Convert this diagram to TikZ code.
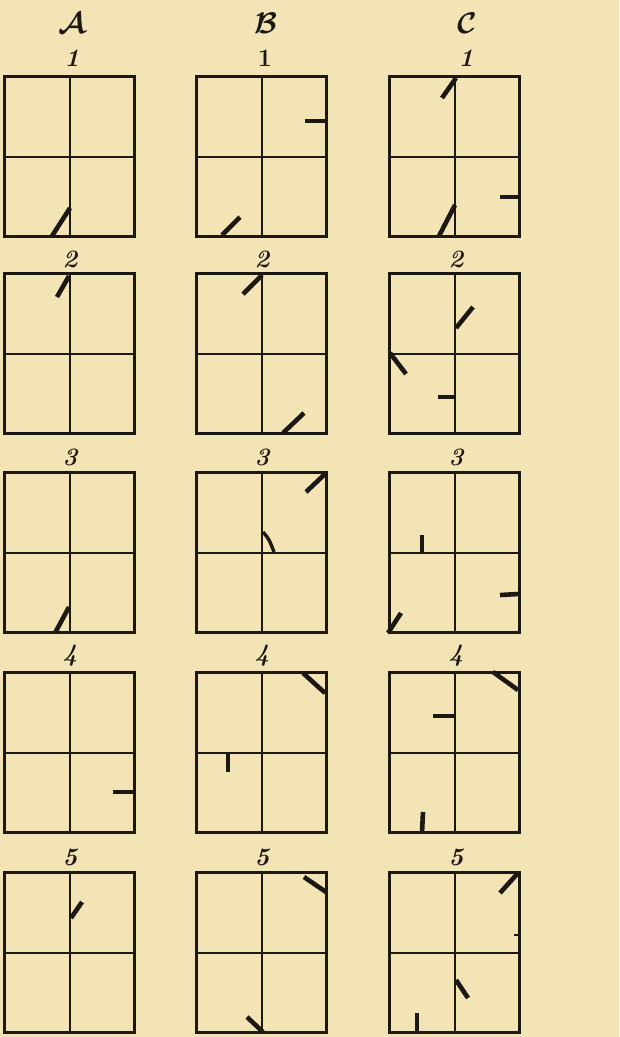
\documentclass[tikz,border=0pt]{standalone}
\usepackage{amsmath}
\definecolor{paper}{RGB}{243,228,181}
\definecolor{ink}{RGB}{28,24,20}
\tikzset{
  box/.style={ink, line width=3pt},
  cross/.style={ink, line width=2.6pt},
  notch/.style={ink, line width=4.6pt},
  colhead/.style={ink, scale=1.2, inner sep=0pt, font=\fontsize{24}{28}\selectfont\boldmath},
  rowno/.style={ink, font=\fontsize{25}{28}\selectfont\bfseries\itshape},
}
\begin{document}
\begin{tikzpicture}[x=1pt,y=-1pt]
\fill[paper] (0,0) rectangle (619,1037);
\useasboundingbox (0,0) rectangle (619,1037);

% column heads
\node[colhead] (headA) at (72,23) {$\mathcal{A}$};
\node[colhead] (headB) at (266,23) {$\mathcal{B}$};
\node[colhead] (headC) at (467,23) {$\mathcal{C}$};

% row numbers
\foreach \n/\y in {2/259,3/457,4/656,5/857} {
  \node[rowno] (numA\n) at (70,\y) {\n};
  \node[rowno] (numB\n) at (262,\y) {\n};
  \node[rowno] (numC\n) at (456,\y) {\n};
}
\node[rowno] (numA1) at (72,58) {1};
\node[rowno, font=\fontsize{25}{28}\selectfont\bfseries\upshape] (numB1) at (265,58) {1};
\node[rowno] (numC1) at (466,58) {1};

% the fifteen squares
\foreach \x in {4,196,389}
  \foreach \y in {76,273,472,672,872} {
    \draw[box] (\x,\y) rectangle ++(130,160);
    \draw[cross] (\x+66,\y) -- ++(0,160);
    \draw[cross] (\x,\y+81) -- ++(130,0);
  }

% row 1
\draw[notch] (52,236) -- (70,208);
\draw[notch] (305,121) -- (326,121);
\draw[notch] (222,235) -- (240,217);
\draw[notch] (456,78) -- (442,98);
\draw[notch] (439,236) -- (455,205);
\draw[notch] (500,197) -- (520,197);

% row 2
\draw[notch] (69,276) -- (57,297);
\draw[notch] (262,275) -- (243,294);
\draw[notch] (283,433) -- (304,413);
\draw[notch] (456,328) -- (473,307);
\draw[notch] (390,353) -- (406,374);
\draw[notch] (438,397) -- (455,397);

% row 3
\draw[notch] (55,633) -- (69,607);
\draw[notch] (326,473) -- (306,492);
\draw[notch, line width=3.4pt] (263,532) .. controls (269,539) .. (274,552);
\draw[notch] (422,535) -- (422,554);
\draw[notch] (500,595) -- (519,594);
\draw[notch] (388,633) -- (401,613);

% row 4
\draw[notch] (113,792) -- (134,792);
\draw[notch] (303,673) -- (325,693);
\draw[notch] (228,753) -- (228,772);
\draw[notch] (493,672) -- (518,690);
\draw[notch] (433,716) -- (455,716);
\draw[notch] (422,833) -- (423,812);

% row 5
\draw[notch] (71,918) -- (82,902);
\draw[notch] (304,877) -- (326,892);
\draw[notch] (247,1017) -- (263,1032);
\draw[notch] (500,893) -- (518,873);
\draw[notch] (456,980) -- (468,998);
\draw[notch] (417,1033) -- (417,1013);
\draw[notch, line width=2.4pt] (514,935) -- (519,935);
\end{tikzpicture}
\end{document}
